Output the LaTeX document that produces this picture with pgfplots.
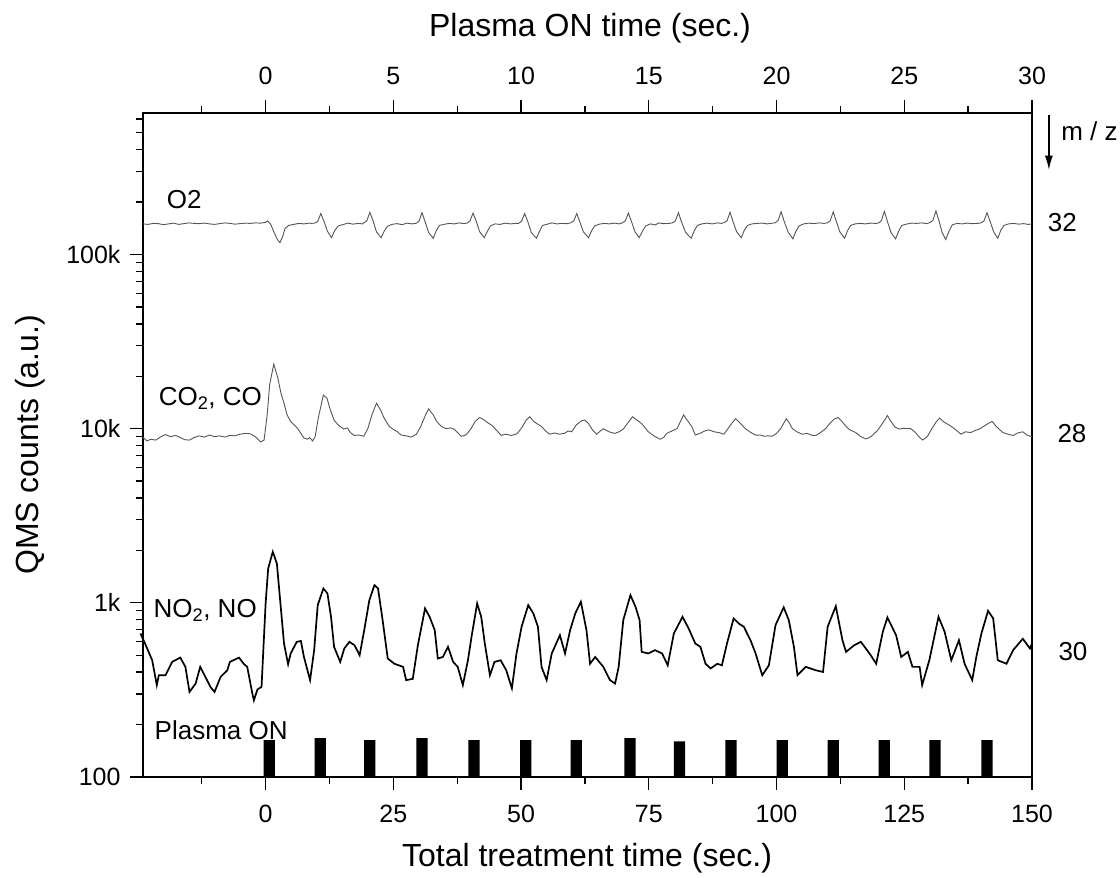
\documentclass[border=0pt]{standalone}
\usepackage{pgfplots}
\pgfplotsset{compat=1.18}
\usepackage{fontspec}
\setmainfont{Liberation Sans}
\usetikzlibrary{arrows.meta}
\definecolor{lg}{RGB}{85,85,85}
\begin{document}
\begin{tikzpicture}
\path[use as bounding box] (0,0) rectangle (1120pt,878pt);
\begin{axis}[
 at={(143pt,101pt)}, anchor=south west, scale only axis, width=889pt, height=664pt,
 xmin=-24, xmax=150, ymode=log, ymin=100, ymax=650000, log origin y=infty,
 font=\fontsize{25}{30}\selectfont,
 xtick={0,25,50,75,100,125,150}, xticklabels={0,25,50,75,100,125,150},
 minor xtick={-12.5,12.5,37.5,62.5,87.5,112.5,137.5},
 ytick={100,1000,10000,100000}, yticklabels={100,1k,10k,100k},
 minor ytick={200,300,400,500,600,700,800,900,2000,3000,4000,5000,6000,7000,8000,9000,20000,30000,40000,50000,60000,70000,80000,90000,200000,300000,400000,500000,600000},
 xtick pos=left, ytick pos=left, tick align=outside,
 major tick length=13pt, minor tick length=7pt,
 xticklabel style={yshift=-12pt}, yticklabel style={xshift=-6pt},
 axis line style={line width=1.3pt}, every tick/.style={line width=1.3pt, black},
 clip=false,
]
% O2 (m/z 32)
\addplot[lg, line width=0.9pt] coordinates {
(-24,150000)(-23,149000)(-22,151000)(-21,150500)(-20,148500)(-19,150000)(-18,151500)(-17,149000)(-16,150500)(-15,152000)(-14,151000)(-13,150500)(-12,151500)(-11,150000)(-10,149000)(-9,150500)(-8,152000)(-7,151000)(-6,149500)(-5,150500)(-4,151500)(-3,151000)(-2,152000)(-1,151500)
(0,153000)(0.4,156000)(1.0,149000)(1.7,133000)(2.3,122000)(2.8,117000)(3.3,126000)(3.8,141000)(4.5,147000)(5.5,149000)(6.5,151000)(7.5,150000)(8.5,151500)(9.0,151000)
(9.6,151500)(10.2,155000)(10.8,172000)(11.4,156000)(12.1,136000)(12.9,125000)(13.5,137000)(14.2,146000)(15.1,148500)(16.1,151500)(17.1,149500)(18.1,151000)(19.0,150000)
(19.2,152000)(19.8,156000)(20.4,175000)(21.0,157000)(21.7,135000)(22.6,125000)(23.2,136000)(23.8,145000)(24.7,149000)(25.7,150500)(26.7,148500)(27.7,151500)(28.6,150000)
(29.4,151000)(30.0,155000)(30.6,174000)(31.2,155000)(31.9,134000)(32.8,124000)(33.4,137000)(34.0,147000)(34.9,149000)(35.9,151000)(36.9,150000)(37.9,152000)(38.8,150500)
(39.4,151500)(40.0,156000)(40.6,173000)(41.2,156000)(41.9,135000)(42.8,125000)(43.4,136000)(44.0,146000)(44.9,150000)(45.9,149000)(46.9,151500)(47.9,150000)(48.9,151000)
(49.5,151000)(50.1,155500)(50.7,172000)(51.3,155000)(52.0,134000)(53.0,124000)(53.6,136000)(54.2,147000)(55.0,149000)(56.0,152000)(57.0,150000)(58.0,151000)(59.0,150500)
(59.7,152000)(60.3,156000)(60.9,172000)(61.5,154000)(62.2,135000)(63.2,125000)(63.8,137000)(64.4,146000)(65.3,149500)(66.3,151000)(67.3,150000)(68.3,151500)(69.2,150000)
(69.8,152000)(70.4,156000)(71.0,173000)(71.6,155000)(72.3,135000)(73.1,125000)(73.8,137000)(74.4,146000)(75.3,150000)(76.3,148000)(76.9,152000)(77.8,150500)(79.0,151000)
(79.6,152000)(80.2,156000)(80.8,174000)(81.4,154000)(82.2,134000)(83.3,124000)(83.9,137000)(84.5,147000)(85.4,150000)(86.4,151500)(87.4,150000)(88.4,152000)(89.2,151000)
(89.7,152500)(90.3,156000)(90.9,175000)(91.5,154000)(92.2,135000)(93.1,125000)(93.7,138000)(94.3,147000)(95.2,150000)(96.2,151000)(97.2,151500)(98.2,150000)(99.2,151500)
(99.7,152000)(100.3,157000)(100.9,176000)(101.5,155000)(102.3,134000)(103.2,123000)(103.8,136000)(104.4,146000)(105.3,150000)(106.3,151500)(107.3,150500)(108.3,152000)(109.3,151000)
(109.9,152000)(110.5,156000)(111.1,176000)(111.7,155000)(112.4,135000)(113.3,124000)(113.9,137000)(114.5,147000)(115.4,150000)(116.4,151000)(117.4,150000)(118.4,151500)(119.4,151000)
(119.9,151500)(120.5,156000)(121.1,177000)(121.7,155000)(122.4,134000)(123.3,123000)(123.9,136000)(124.5,147000)(125.4,149500)(126.4,151500)(127.4,151000)(128.4,152000)(129.4,150500)
(130.0,152500)(130.6,157000)(131.2,178000)(131.8,156000)(132.4,134000)(133.1,122000)(133.8,137000)(134.4,148000)(135.3,151000)(136.3,150000)(137.3,151500)(138.3,150500)(139.4,151000)
(140.0,152000)(140.6,156000)(141.2,174000)(141.8,155000)(142.5,135000)(143.3,124000)(143.9,138000)(144.5,147000)(145.4,150000)(146.4,151000)(147.4,149500)(148.4,150500)(149.2,149000)(150,150000)
};
% CO2, CO (m/z 28)
\addplot[lg, line width=0.9pt] coordinates {
(-24,8900)(-23.2,8500)(-22.5,8700)(-21.5,8600)(-20.5,9000)(-19.6,9250)(-18.6,9000)(-17.6,9150)(-16.7,8900)(-15.8,8650)(-14.9,8600)(-14,8900)(-13,9100)(-12,8950)(-11,9200)(-10,9000)(-9,9100)(-8,8950)(-7,9150)(-6,9100)(-5,9300)(-4,9400)(-3,9350)(-2,9000)(-1,8400)(-0.3,8600)
(0.3,12000)(0.8,18000)(1.6,23500)(2.4,19500)(3.0,16000)(3.6,14000)(4.2,12000)(4.9,11000)(5.6,10500)(6.3,10000)(7.0,9300)(7.5,8850)(8.2,8700)(8.6,8900)(9.2,8500)(9.7,9000)
(10.3,11500)(11.3,15600)(12.0,15000)(12.6,13000)(13.4,11200)(14.2,10500)(15.3,9950)(16.0,10100)(16.6,9500)(17.3,9150)(18.2,9200)(19.2,9050)
(20.0,10000)(20.8,12000)(21.7,14000)(22.5,12800)(23.2,11500)(24.2,10300)(25.0,9900)(25.8,9600)(26.5,9200)(27.5,9100)(28.5,8950)(29.5,9300)
(30.3,10200)(31.2,11800)(31.9,13000)(32.8,12000)(33.5,11000)(34.4,10300)(35.3,10000)(36.2,10100)(36.9,9950)(38.3,9050)(39.2,9200)
(40.2,10000)(41.0,11000)(41.9,11600)(42.8,11200)(43.5,10800)(44.2,10500)(45.2,9800)(46.1,9150)(47.0,9300)(48.1,9140)(49.2,9350)
(50.2,10200)(51.0,11200)(51.7,11700)(52.5,11000)(53.3,10600)(54.0,10300)(54.8,9700)(55.6,9300)(56.5,9450)(57.5,9300)(58.5,9400)(59.2,9700)(59.9,9600)
(60.8,10500)(61.8,11100)(62.5,11200)(63.2,10700)(64.0,9800)(64.8,9300)(65.5,9700)(66.1,10000)(67.2,9600)(68.3,9400)(69.2,9600)(70.0,9950)
(70.9,10800)(71.8,11700)(72.7,11200)(73.6,10700)(74.3,10100)(74.9,9600)(76.0,9100)(77.2,8700)(77.9,8900)(78.5,9400)(79.5,9700)(80.5,10000)
(81.2,11000)(81.8,12000)(82.5,11200)(83.4,10300)(84.1,9200)(85.0,9400)(85.9,9700)(86.7,9850)(87.8,9600)(88.7,9500)(89.7,9300)
(90.6,10100)(91.3,10800)(92.0,11400)(92.7,10900)(93.9,10000)(95.0,9500)(95.9,9180)(96.8,9200)(97.6,9050)(98.4,9100)(99.2,9050)
(100.0,9400)(100.8,10000)(101.9,11400)(102.5,10800)(103.1,10000)(104.0,9600)(105.0,9300)(106.0,9400)(107.0,9150)(107.7,9140)(108.6,9500)(109.6,10000)
(110.4,10700)(111.2,11300)(112.0,11600)(112.8,11000)(113.5,10400)(114.2,9900)(115.5,9500)(116.5,9000)(117.5,8730)(118.2,8900)(118.8,9180)(119.8,9800)
(120.8,10800)(121.7,11900)(122.4,11000)(123.2,10200)(124.0,9950)(125.0,10050)(126.3,10000)(127.2,9500)(128.0,8900)(128.6,8610)(129.5,9000)
(130.4,10000)(131.2,10900)(131.9,11500)(132.8,10900)(133.8,10500)(134.8,10000)(136.1,9300)(137.0,9600)(138.0,9500)(139.0,9800)(139.7,9950)
(140.5,10300)(141.4,10700)(142.2,11000)(143.0,10300)(144.3,9500)(145.3,9300)(146.3,9140)(147.2,9450)(148.2,9600)(149.0,9200)(150.0,8980)
};
% NO2, NO (m/z 30)
\addplot[black, line width=1.7pt] coordinates {
(-24.5,667)(-23.6,584)(-22.2,468)(-21.3,337)(-20.9,384)(-19.6,384)(-18.3,458)(-16.7,485)(-15.7,429)(-14.9,308)(-13.7,344)(-12.8,429)(-11.8,376)(-10.8,329)(-10.0,308)(-8.8,376)(-7.5,410)(-7.0,458)(-5.2,485)(-4.3,447)(-3.6,429)(-2.6,302)(-2.3,276)(-1.6,318)(-0.8,329)
(0.0,992)(0.5,1576)(1.4,1964)(2.2,1684)(2.9,992)(3.6,584)(4.4,444)(4.9,512)(6.1,597)(6.9,604)(7.5,489)(8.7,360)(9.5,535)
(10.2,970)(11.3,1210)(12.1,1132)(12.8,831)(13.4,559)(14.6,458)(15.4,547)(16.4,597)(17.4,571)(18.4,500)(19.3,697)
(20.3,1036)(21.3,1264)(22.0,1210)(22.9,795)(23.9,479)(25.2,447)(26.9,429)(27.5,360)(28.8,366)(29.8,571)
(31.2,929)(32.1,831)(33.1,697)(33.7,479)(34.7,489)(35.7,559)(36.7,458)(37.6,429)(38.6,337)(39.6,468)(40.3,638)
(41.4,992)(42.2,831)(42.9,584)(43.9,384)(44.8,458)(46.0,468)(47.1,410)(48.2,323)(49.1,512)(50.1,729)
(51.4,970)(52.4,869)(53.3,729)(54.0,429)(55.0,360)(56.0,512)(57.6,652)(58.6,512)(59.6,697)(60.6,869)
(61.7,1014)(62.8,697)(63.5,447)(64.5,489)(66.1,429)(67.4,360)(68.4,344)(69.1,429)(70.0,795)
(71.4,1107)(72.4,949)(73.2,795)(73.6,523)(74.9,512)(76.2,535)(77.6,512)(78.7,438)(79.9,667)
(81.6,831)(82.8,712)(84.1,584)(85.1,559)(86.1,447)(87.1,420)(88.4,447)(89.3,438)(90.3,584)
(91.6,814)(92.6,761)(93.6,729)(94.9,610)(95.9,512)(97.2,384)(98.5,438)(99.8,745)
(101.4,942)(102.4,795)(103.4,559)(104.1,384)(105.7,429)(107.7,410)(109.1,401)(110.0,729)
(111.6,957)(112.9,610)(113.6,523)(115.2,571)(116.5,597)(118.2,512)(119.5,447)(120.8,682)
(121.7,824)(123.4,652)(124.4,489)(125.7,523)(126.6,429)(128.0,429)(128.5,337)(129.9,468)
(131.7,831)(132.9,682)(134.2,468)(135.7,610)(136.8,447)(138.3,360)(139.1,489)(140.1,667)
(141.4,900)(142.4,814)(143.3,468)(145.0,447)(146.3,535)(148.2,622)(149.6,547)(150.0,584)
};
% Plasma ON pulses
\addplot[ybar, bar width=2.2, bar shift=0pt, fill=black, draw=none] coordinates {
(0.7,163)(10.7,167)(20.4,163)(30.6,167)(40.8,163)(50.9,163)(60.8,163)(71.3,167)(81.0,160)(91.1,163)(101.1,163)(111.1,163)(121.1,163)(131.0,163)(141.2,163)
};
\begin{scope}[font=\fontsize{26}{31}\selectfont]
\node[anchor=west] at (axis cs:-20,206000) {O2};
\node[anchor=west] at (axis cs:-21.6,15000) {CO\textsubscript{2}, CO};
\node[anchor=west] at (axis cs:-22.6,908) {NO\textsubscript{2}, NO};
\node[anchor=west] at (axis cs:-22.4,185) {Plasma ON};
\node[anchor=west] at (axis cs:152.4,152000) {32};
\node[anchor=west] at (axis cs:154.3,9440) {28};
\node[anchor=west] at (axis cs:154.5,527) {30};
\node[anchor=west, inner sep=0pt] at (axis cs:155.7,509000) {m / z};
\end{scope}
\draw[-{Latex[length=14pt,width=8pt]}, line width=1.3pt] (axis cs:153.3,635000) -- (axis cs:153.3,307000);
\end{axis}
\begin{axis}[
 at={(143pt,101pt)}, anchor=south west, scale only axis, width=889pt, height=664pt,
 xmin=-24, xmax=150, ymode=log, ymin=100, ymax=650000,
 font=\fontsize{25}{30}\selectfont,
 axis x line*=top, hide y axis,
 xtick={0,25,50,75,100,125,150}, xticklabels={0,5,10,15,20,25,30},
 minor xtick={-12.5,12.5,37.5,62.5,87.5,112.5,137.5},
 xticklabel style={yshift=12pt},
 tick align=outside, major tick length=13pt, minor tick length=7pt,
 axis line style={line width=1.3pt}, every tick/.style={line width=1.3pt, black},
]
\addplot[draw=none] coordinates {(0,1000)};
\end{axis}
\node[font=\fontsize{32}{38}\selectfont] at (587pt,20pt) {Total treatment time (sec.)};
\node[font=\fontsize{32}{38}\selectfont] at (590pt,850pt) {Plasma ON time (sec.)};
\node[font=\fontsize{32}{38}\selectfont, rotate=90] at (30pt,433pt) {QMS counts (a.u.)};
\end{tikzpicture}
\end{document}
